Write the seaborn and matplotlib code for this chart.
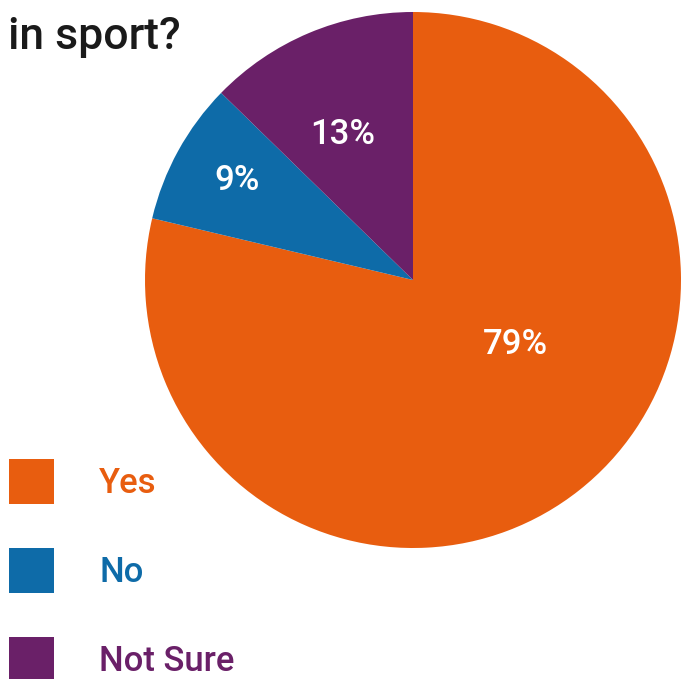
import numpy as np
import seaborn as sns
from matplotlib import pyplot as plt

# 데이터
answers = ["Yes", "No", "Not Sure"]
shares = [78.7, 8.6, 12.7]
pct_labels = ["79%", "9%", "13%"]
colors = ["#E85D0F", "#0E6BA8", "#6A2068"]

sns.set_theme(style="white")
plt.rcParams['font.family'] = ['Roboto', 'DejaVu Sans']

W, H = 681, 679
fig = plt.figure(figsize=(W / 100, H / 100), dpi=100)
ax = fig.add_axes([0, 0, 1, 1])

# 파이 (픽셀 좌표 기준, y 는 아래에서 위로)
cx, cy, r = 413, H - 280, 268
wedges, _ = ax.pie(shares, colors=colors, startangle=90, counterclock=False,
                   center=(cx, cy), radius=r, wedgeprops=dict(linewidth=0))

# 퍼센트 라벨 위치
label_pos = [(515, H - 345), (237, H - 180), (343, H - 135)]
for (x, y), t in zip(label_pos, pct_labels):
    ax.text(x, y, t, color="white", fontsize=25, fontweight="medium",
            ha="center", va="center")

ax.text(8, H - 49, "in sport?", fontsize=32, fontweight="medium", color="#1a1a1a",
        ha="left", va="baseline")

leg = ax.legend(wedges, answers, loc="upper left", bbox_to_anchor=(9 / W, 1 - 459 / H),
                frameon=False, prop=dict(size=25, weight="medium"),
                handlelength=1.3, handleheight=1.62,
                handletextpad=1.3, labelspacing=1.27, borderaxespad=0, borderpad=0)
for txt, c in zip(leg.get_texts(), colors):
    txt.set_color(c)

ax.set_xlim(0, W)
ax.set_ylim(0, H)
ax.set_aspect("equal")
ax.axis("off")

fig.savefig("out.png", dpi=100)
